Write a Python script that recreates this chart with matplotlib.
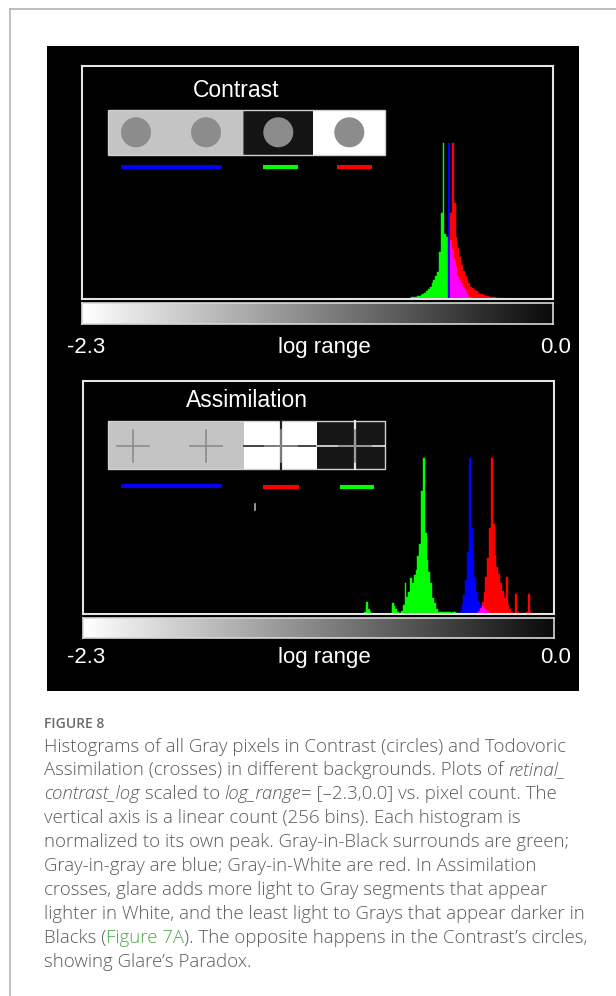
import matplotlib
matplotlib.use("Agg")
import matplotlib.pyplot as plt
import numpy as np
from matplotlib.patches import Rectangle, Circle
from matplotlib.lines import Line2D

W, H = 616, 996
N_BINS = 256
LOG_MIN, LOG_MAX = -2.3, 0.0

GREEN = (0.0, 1.0, 0.0)
BLUE = (0.0, 0.0, 1.0)
RED = (1.0, 0.0, 0.0)

# Contrast (circles): normalized counts per bin (256 bins over log range)
contrast_green_bins = list(range(178, 199))
contrast_green = [0.008, 0.010, 0.012, 0.015, 0.018, 0.022, 0.026, 0.032, 0.040, 0.050,
                  0.062, 0.078, 0.100, 0.125, 0.150, 0.175, 0.30, 0.55, 1.00, 0.42, 0.40]
contrast_blue_bins = list(range(199, 212))
contrast_blue = [1.00, 0.38, 0.32, 0.26, 0.21, 0.15, 0.12, 0.10, 0.08, 0.06, 0.04, 0.02, 0.01]
contrast_red_bins = list(range(200, 228))
contrast_red = [0.55, 1.00, 0.62, 0.40, 0.33, 0.27, 0.22, 0.18, 0.15, 0.12,
                0.10, 0.08, 0.07, 0.06, 0.05, 0.04, 0.035, 0.03, 0.025, 0.02,
                0.018, 0.015, 0.013, 0.011, 0.01, 0.008, 0.006, 0.005]

# Assimilation (crosses)
assim_green_bins = [153, 154, 155, 156, 168, 169, 170, 171] + list(range(173, 204))
assim_green = [0.01, 0.08, 0.03, 0.01, 0.07, 0.05, 0.03, 0.01,
               0.02, 0.06, 0.20, 0.11, 0.14, 0.23, 0.20, 0.25, 0.28, 0.37,
               0.45, 0.79, 1.00, 0.52, 0.35, 0.27, 0.20, 0.10, 0.07, 0.03,
               0.015, 0.012, 0.015, 0.01, 0.012, 0.015, 0.01, 0.008, 0.012, 0.01, 0.008]
assim_blue_bins = list(range(205, 221))
assim_blue = [0.02, 0.06, 0.12, 0.22, 0.40, 1.00, 0.55, 0.35, 0.24, 0.14,
              0.08, 0.06, 0.05, 0.04, 0.03, 0.02]
assim_red_bins = list(range(215, 244))
assim_red = [0.02, 0.04, 0.08, 0.14, 0.24, 0.36, 0.55, 1.00, 0.58, 0.38,
             0.30, 0.26, 0.20, 0.15, 0.10, 0.24, 0.06, 0.03, 0.01, 0.0,
             0.13, 0.01, 0.0, 0.0, 0.0, 0.0, 0.01, 0.13, 0.01]

axis_labels = ["-2.3", "log range", "0.0"]
titles = ["Contrast", "Assimilation"]

caption_head = "FIGURE 8"
caption_lines = [
    [("Histograms of all Gray pixels in Contrast (circles) and Todovoric", "normal", None)],
    [("Assimilation (crosses) in different backgrounds. Plots of ", "normal", None),
     ("retinal_", "italic", None)],
    [("contrast_log", "italic", None), (" scaled to ", "normal", None),
     ("log_range", "italic", None), ("= [\u20132.3,0.0] vs. pixel count. The", "normal", None)],
    [("vertical axis is a linear count (256 bins). Each histogram is", "normal", None)],
    [("normalized to its own peak. Gray-in-Black surrounds are green;", "normal", None)],
    [("Gray-in-gray are blue; Gray-in-White are red. In Assimilation", "normal", None)],
    [("crosses, glare adds more light to Gray segments that appear", "normal", None)],
    [("lighter in White, and the least light to Grays that appear darker in", "normal", None)],
    [("Blacks (", "normal", None), ("Figure 7A", "normal", "#4caa4a"),
     ("). The opposite happens in the Contrast\u2019s circles,", "normal", None)],
    [("showing Glare\u2019s Paradox.", "normal", None)],
]

fig = plt.figure(figsize=(W / 100, H / 100), dpi=100)
fig.patch.set_facecolor("white")
renderer = fig.canvas.get_renderer()


def px_axes(x0, y0, x1, y1):
    return fig.add_axes([x0 / W, 1 - y1 / H, (x1 - x0) / W, (y1 - y0) / H])


def additive_hist(ax, layers):
    # overlapping histograms add their light (red+blue -> magenta)
    heights = np.zeros((len(layers), N_BINS))
    for k, (bins, vals, _) in enumerate(layers):
        heights[k, bins] = vals
    rgbs = np.array([c for _, _, c in layers], float)
    edges = np.linspace(LOG_MIN, LOG_MAX, N_BINS + 1)
    w = edges[1] - edges[0]
    xs, bots, hs, cols = [], [], [], []
    for i in range(N_BINS):
        col = heights[:, i]
        lo = 0.0
        for lev in np.unique(col[col > 0]):
            mix = np.clip(rgbs[col >= lev].sum(axis=0), 0, 1)
            xs.append(edges[i]); bots.append(lo); hs.append(lev - lo); cols.append(mix)
            lo = lev
    ax.bar(xs, hs, width=w, bottom=bots, align="edge", color=cols,
           edgecolor=cols, linewidth=0.3)


# page border and black image panel (behind the axes)
fig.add_artist(Line2D([9.5 / W, 9.5 / W], [0, 1 - 9.5 / H], color="#b4b4b4", lw=1.2, zorder=-2))
fig.add_artist(Line2D([9.5 / W, 1], [1 - 9.5 / H, 1 - 9.5 / H], color="#b4b4b4", lw=1.2, zorder=-2))
fig.add_artist(Rectangle((46.5 / W, 1 - 691 / H), (579 - 46.5) / W, (691 - 46.5) / H,
                         transform=fig.transFigure, facecolor="black", edgecolor="none",
                         zorder=-1))

panels = [
    dict(hist=(82.2, 65.7, 553, 299), grad=(82.2, 303.3, 553, 324), lab_y=352.7,
         title=titles[0], title_xy=(236.5, 97.3),
         layers=[(contrast_green_bins, contrast_green, GREEN),
                 (contrast_blue_bins, contrast_blue, BLUE),
                 (contrast_red_bins, contrast_red, RED)]),
    dict(hist=(82.7, 380.7, 553.5, 614), grad=(82.7, 618.3, 553.5, 638.3), lab_y=663.3,
         title=titles[1], title_xy=(246.5, 407.3),
         layers=[(assim_green_bins, assim_green, GREEN),
                 (assim_blue_bins, assim_blue, BLUE),
                 (assim_red_bins, assim_red, RED)]),
]

label_font = dict(family=["Liberation Sans", "DejaVu Sans"], color="white")

for p in panels:
    ax = px_axes(*p["hist"])
    ax.set_facecolor("black")
    additive_hist(ax, p["layers"])
    ax.set_xlim(LOG_MIN, LOG_MAX)
    ax.set_ylim(0, 1.5)
    ax.set_xticks([]); ax.set_yticks([])
    for s in ax.spines.values():
        s.set_color("#e4e4e4"); s.set_linewidth(1.5)

    gax = px_axes(*p["grad"])
    gax.imshow(np.linspace(1.0, 0.04, 256)[None, :], cmap="gray", vmin=0, vmax=1,
               aspect="auto", extent=[LOG_MIN, LOG_MAX, 0, 1])
    gax.set_xticks([]); gax.set_yticks([])
    for s in gax.spines.values():
        s.set_color("#d8d8d8"); s.set_linewidth(1.2)

    y = 1 - p["lab_y"] / H
    fig.text(66.7 / W, y, axis_labels[0], ha="left", va="baseline", fontsize=16, **label_font)
    fig.text(324.5 / W, y, axis_labels[1], ha="center", va="baseline", fontsize=16, **label_font)
    fig.text(570.7 / W, y, axis_labels[2], ha="right", va="baseline", fontsize=16, **label_font)
    tx, ty = p["title_xy"]
    fig.text(tx / W, 1 - ty / H, p["title"], ha="center", va="baseline", fontsize=16.5,
             **label_font)

# stimulus strip: circles on gray / black / white
sax = px_axes(100, 104, 392, 174)
sax.set_xlim(100, 392); sax.set_ylim(174, 104); sax.axis("off")
sax.add_patch(Rectangle((107.7, 110), 242.7 - 107.7, 45.3, fc="#c4c4c4", ec="none"))
sax.add_patch(Rectangle((242.7, 110), 313.3 - 242.7, 45.3, fc="#141414", ec="#777777", lw=0.6))
sax.add_patch(Rectangle((313.3, 110), 385 - 313.3, 45.3, fc="white", ec="none"))
sax.add_patch(Rectangle((107.7, 110), 385 - 107.7, 45.3, fill=False, ec="#d0d0d0", lw=1))
for cx in [136, 206, 278.3, 349.3]:
    sax.add_patch(Circle((cx, 132.3), 15, fc="#8c8c8c", ec="none"))
sax.plot([120.7, 221.8], [166.7, 166.7], color=BLUE, lw=3, solid_capstyle="butt")
sax.plot([262.7, 297.7], [166.7, 166.7], color=GREEN, lw=3, solid_capstyle="butt")
sax.plot([336.7, 372.0], [166.7, 166.7], color=RED, lw=3, solid_capstyle="butt")

# stimulus strip: crosses on gray / white / black
bax = px_axes(100, 415, 392, 514)
bax.set_xlim(100, 392); bax.set_ylim(514, 415); bax.axis("off")
bax.add_patch(Rectangle((107.7, 421), 244 - 107.7, 48.3, fc="#c4c4c4", ec="none"))
bax.add_patch(Rectangle((244, 421), 317.3 - 244, 48.3, fc="white", ec="none"))
bax.add_patch(Rectangle((317.3, 421), 385 - 317.3, 48.3, fc="#161616", ec="none"))
bax.plot([244, 317.3], [446, 446], color="#222222", lw=1.2)
bax.plot([281, 281], [421, 469.3], color="#222222", lw=1.6)
bax.plot([317.3, 385], [446, 446], color="#e6e6e6", lw=1.2)
bax.plot([355, 355], [421, 469.3], color="#e6e6e6", lw=1.6)
for cx in [133.3, 206, 281, 355]:
    bax.plot([cx - 16, cx + 16], [446, 446], color="#8c8c8c", lw=1.2)
    bax.plot([cx, cx], [430, 462], color="#8c8c8c", lw=1.2)
bax.add_patch(Rectangle((107.7, 421), 385 - 107.7, 48.3, fill=False, ec="#d0d0d0", lw=1))
bax.plot([120.7, 221.8], [485.7, 485.7], color=BLUE, lw=3, solid_capstyle="butt")
bax.plot([263.3, 298.7], [487.3, 487.3], color=RED, lw=3, solid_capstyle="butt")
bax.plot([340.0, 374.3], [486.7, 486.7], color=GREEN, lw=3, solid_capstyle="butt")
bax.plot([255, 255], [504, 510], color="#b0b0b0", lw=1.2)

# caption
cap_font = ["Open Sans", "DejaVu Sans"]
cap_color = "#5a5a5a"
fig.text(44 / W, 1 - 727.5 / H, caption_head, ha="left", va="baseline", fontsize=10,
         family=cap_font, weight="semibold", color="#6a6a6a")


def text_width(txt, **kw):
    a = fig.text(0, 0, txt + "|", **kw)
    b = fig.text(0, 0, "|", **kw)
    w = a.get_window_extent(renderer).width - b.get_window_extent(renderer).width
    a.remove(); b.remove()
    return w


base0, step = 751.5, 23.95
for i, parts in enumerate(caption_lines):
    x = 44.0
    y = 1 - (base0 + i * step) / H
    for txt, style, color in parts:
        kw = dict(fontsize=13.4, family=cap_font, style=style, weight="light",
                  color=color or cap_color)
        fig.text(x / W, y, txt, ha="left", va="baseline", **kw)
        x += text_width(txt, **kw)

fig.savefig("out.png", dpi=100, facecolor="white")
